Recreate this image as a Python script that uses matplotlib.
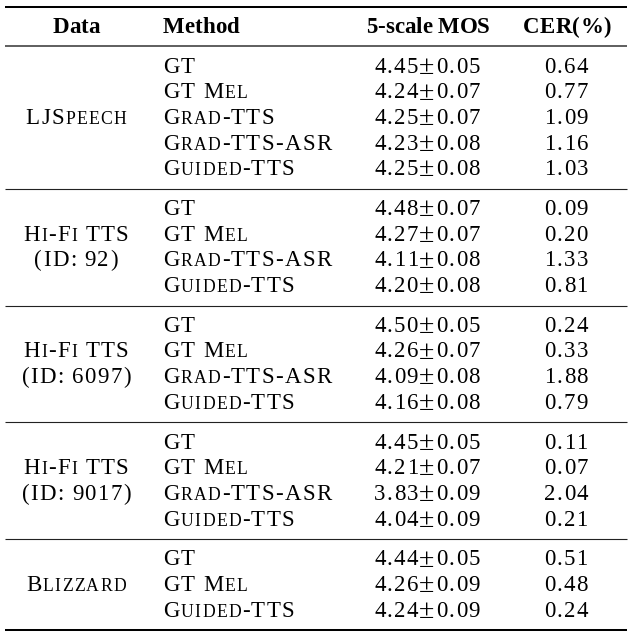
import re
import matplotlib
matplotlib.use("Agg")
import matplotlib.pyplot as plt
from matplotlib import ft2font
from matplotlib.font_manager import FontProperties, findfont

# ---------------- data ----------------
headers = ["Data", "Method", "5-scale MOS", "CER(%)"]
# {...} marks small-caps parts
groups = ["LJS{peech}", "H{i}-F{i} TTS\n(ID: 92)", "H{i}-F{i} TTS\n(ID: 6097)",
          "H{i}-F{i} TTS\n(ID: 9017)", "B{lizzard}"]
methods = [
    ["GT", "GT M{el}", "G{rad}-TTS", "G{rad}-TTS-ASR", "G{uided}-TTS"],
    ["GT", "GT M{el}", "G{rad}-TTS-ASR", "G{uided}-TTS"],
    ["GT", "GT M{el}", "G{rad}-TTS-ASR", "G{uided}-TTS"],
    ["GT", "GT M{el}", "G{rad}-TTS-ASR", "G{uided}-TTS"],
    ["GT", "GT M{el}", "G{uided}-TTS"],
]
mos_mean = [
    [4.45, 4.24, 4.25, 4.23, 4.25],
    [4.48, 4.27, 4.11, 4.20],
    [4.50, 4.26, 4.09, 4.16],
    [4.45, 4.21, 3.83, 4.04],
    [4.44, 4.26, 4.24],
]
mos_err = [
    [0.05, 0.07, 0.07, 0.08, 0.08],
    [0.07, 0.07, 0.08, 0.08],
    [0.05, 0.07, 0.08, 0.08],
    [0.05, 0.07, 0.09, 0.09],
    [0.05, 0.09, 0.09],
]
cer = [
    [0.64, 0.77, 1.09, 1.16, 1.03],
    [0.09, 0.20, 1.33, 0.81],
    [0.24, 0.33, 1.88, 0.79],
    [0.11, 0.07, 2.04, 0.21],
    [0.51, 0.48, 0.24],
]

# ---------------- layout ----------------
W, H = 631, 639
DPI = 100
FONT = "Liberation Serif"
FS = 16.5
SC = 0.77
TRACK = 1.3
fig = plt.figure(figsize=(W / DPI, H / DPI), dpi=DPI)
ax = fig.add_axes([0, 0, 1, 1])
ax.set_xlim(0, W)
ax.set_ylim(H, 0)
ax.axis("off")

x_data, x_method, x_mos, x_cer = 76, 163, 427, 566
pitch, gap = 25.64, 14.2
first_base = 72.7
x0, x1 = 5, 627

try:
    NOHINT = ft2font.LoadFlags.NO_HINTING
except AttributeError:
    NOHINT = ft2font.LOAD_NO_HINTING

_fonts = {}


def advance(ch, size, weight):
    key = weight
    if key not in _fonts:
        _fonts[key] = ft2font.FT2Font(findfont(FontProperties(family=FONT, weight=weight)))
    f = _fonts[key]
    f.set_size(size, DPI)
    g = f.load_char(ord(ch), flags=NOHINT)
    return g.linearHoriAdvance / 65536.0


def parse(label):
    parts = []
    for m in re.finditer(r"\{([^}]*)\}|([^{]+)", label):
        if m.group(1) is not None:
            parts.append((m.group(1).upper(), True))
        else:
            parts.append((m.group(2), False))
    return parts


def draw(x, y, label, ha="left", weight="normal", track=TRACK):
    glyphs = []
    for txt, small in parse(label):
        size = FS * (SC if small else 1)
        for ch in txt:
            s = size * 1.22 if ch == "\u00b1" else size
            glyphs.append((ch, s, advance(ch, s, weight)))
    total = sum(a for _, _, a in glyphs) + track * (len(glyphs) - 1)
    pen = x - total / 2 if ha == "center" else x
    for ch, size, adv in glyphs:
        if ch != " ":
            dy = 1.2 if ch == "\u00b1" else 0.0
            ax.text(pen, y + dy, ch, fontsize=size, family=FONT, weight=weight,
                    va="baseline", ha="left", color="black")
        pen += adv + track


def hline(y, lw, color="black"):
    ax.plot([x0, x1], [y, y], color=color, lw=lw, solid_capstyle="butt")


# rules and header
hline(7, 1.45)
header_base = 33
draw(x_data, header_base, headers[0], "center", "bold", 0.0)
draw(x_method, header_base, headers[1], "left", "bold", 0.0)
draw(x_mos + 1, header_base, headers[2], "center", "bold", 0.0)
draw(x_cer + 1, header_base, headers[3], "center", "bold", 0.3)
hline(46.3, 1.1, "#333333")

base = first_base
for gi, grp in enumerate(groups):
    bases = []
    for ri, meth in enumerate(methods[gi]):
        b = base + ri * pitch
        bases.append(b)
        draw(x_method, b, meth)
        draw(x_mos, b, f"{mos_mean[gi][ri]:.2f}\u00b1{mos_err[gi][ri]:.2f}", "center")
        draw(x_cer, b, f"{cer[gi][ri]:.2f}", "center")
    mid = (bases[0] + bases[-1]) / 2
    lines = grp.split("\n")
    for li, ln in enumerate(lines):
        yb = mid + (li - (len(lines) - 1) / 2) * pitch
        draw(x_data, yb, ln, "center")
    last = bases[-1]
    if gi < len(groups) - 1:
        hline(last + 13.7, 0.8, "#222222")
        base = last + pitch + gap
    else:
        hline(last + 13.5, 1.45)

fig.savefig("out.png", dpi=DPI)
